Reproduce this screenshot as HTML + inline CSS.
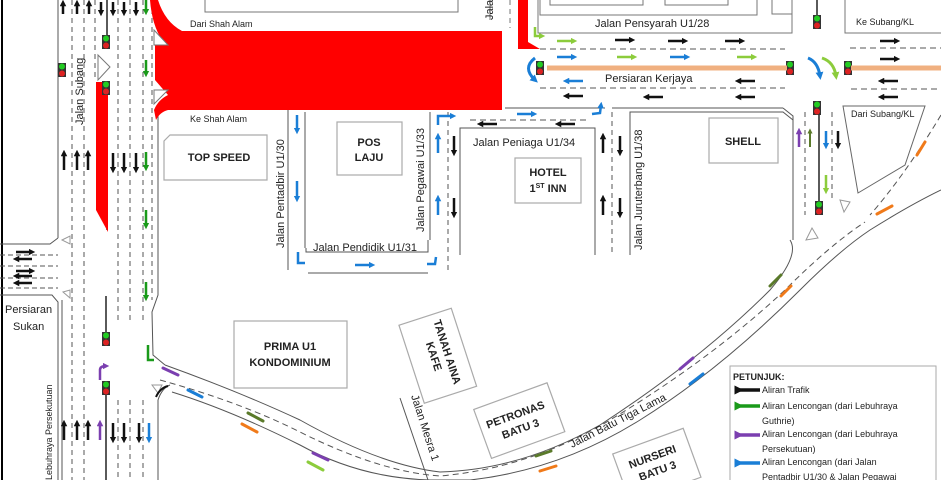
<!DOCTYPE html>
<html><head><meta charset="utf-8"><style>
html,body{margin:0;padding:0;background:#fff}
svg{display:block}
text{font-family:"Liberation Sans",sans-serif;fill:#222}
</style></head><body>
<svg width="941" height="480" viewBox="0 0 941 480" xmlns="http://www.w3.org/2000/svg">
<defs>
<marker id="mk" markerWidth="2.6" markerHeight="2.6" refX="1.3" refY="1.3" orient="auto" markerUnits="strokeWidth"><path d="M0,0L2.6,1.3L0,2.6z" fill="#111"/></marker>
<marker id="mg" markerWidth="2.6" markerHeight="2.6" refX="1.3" refY="1.3" orient="auto" markerUnits="strokeWidth"><path d="M0,0L2.6,1.3L0,2.6z" fill="#1a9a1a"/></marker>
<marker id="ml" markerWidth="2.6" markerHeight="2.6" refX="1.3" refY="1.3" orient="auto" markerUnits="strokeWidth"><path d="M0,0L2.6,1.3L0,2.6z" fill="#8ccc3c"/></marker>
<marker id="mb" markerWidth="2.6" markerHeight="2.6" refX="1.3" refY="1.3" orient="auto" markerUnits="strokeWidth"><path d="M0,0L2.6,1.3L0,2.6z" fill="#1a7ed6"/></marker>
<marker id="mp" markerWidth="2.6" markerHeight="2.6" refX="1.3" refY="1.3" orient="auto" markerUnits="strokeWidth"><path d="M0,0L2.6,1.3L0,2.6z" fill="#7b3fb0"/></marker>
<marker id="mo" markerWidth="2.6" markerHeight="2.6" refX="1.3" refY="1.3" orient="auto" markerUnits="strokeWidth"><path d="M0,0L2.6,1.3L0,2.6z" fill="#5a7a2a"/></marker>
</defs>

<line x1="2" y1="0" x2="2" y2="480" stroke="#000" stroke-width="2"/>

<g stroke="#555" stroke-width="1" fill="none">
<line x1="58" y1="0" x2="58" y2="238"/>
<path d="M58 238 L50 244 L0 244"/>
<path d="M0 295 L52 295 L58 302 L58 480"/>
<line x1="72" y1="0" x2="72" y2="480" stroke-dasharray="5,4"/>
<line x1="84" y1="0" x2="84" y2="480" stroke-dasharray="5,4"/>
<line x1="95" y1="0" x2="95" y2="80" stroke-dasharray="5,4"/>
<line x1="118" y1="0" x2="118" y2="320" stroke-dasharray="5,4"/>
<line x1="130" y1="0" x2="130" y2="320" stroke-dasharray="5,4"/>
<line x1="143" y1="0" x2="143" y2="320" stroke-dasharray="5,4"/>
<line x1="152" y1="0" x2="152" y2="300" stroke-dasharray="5,4"/>
<line x1="118" y1="400" x2="118" y2="480" stroke-dasharray="5,4"/>
<line x1="130" y1="400" x2="130" y2="480" stroke-dasharray="5,4"/>
<line x1="143" y1="400" x2="143" y2="480" stroke-dasharray="5,4"/>
<path d="M158 112 L158 295 L152 312 L153 355 L165 365"/>
<path d="M158 480 L158 400 Q162 388 170 385"/>
<line x1="0" y1="255" x2="58" y2="255" stroke-dasharray="5,3"/>
<line x1="0" y1="266" x2="58" y2="266" stroke-dasharray="5,3"/>
<line x1="0" y1="278" x2="58" y2="278" stroke-dasharray="5,3"/>
<line x1="0" y1="288" x2="58" y2="288" stroke-dasharray="5,3"/>
<path d="M62 300 L62 480"/>
</g>
<line x1="107" y1="0" x2="107" y2="38" stroke="#222" stroke-width="1.5"/>
<line x1="107" y1="92" x2="107" y2="230" stroke="#222" stroke-width="1.5"/>
<line x1="106" y1="296" x2="106" y2="335" stroke="#222" stroke-width="1.5"/>
<line x1="106" y1="392" x2="106" y2="480" stroke="#222" stroke-width="1.5"/>

<path d="M150 0 L158 0 Q165 22 182 31 L502 31 L502 110 L168 110 Q160 112 156 120 L154 110 Q158 100 168 95 L155 80 L155 45 L162 40 Q152 25 150 0 Z" fill="#f00"/>
<path d="M518 0 L528 0 L528 42 L540 49 L518 49 Z" fill="#f00"/>
<path d="M96 82 L108 82 L108 232 L96 210 Z" fill="#f00"/>

<path d="M98 55 L110 67 L98 80 Z" fill="#fff" stroke="#777"/>
<path d="M154 30 L168 45 L154 45 Z" fill="#fff" stroke="#777"/>
<path d="M154 90 L168 90 L154 104 Z" fill="#fff" stroke="#777"/>

<g>
<g transform="translate(102,35)"><rect width="8" height="14" fill="#333"/><circle cx="4" cy="3.5" r="3" fill="#2c2"/><circle cx="4" cy="10.5" r="3" fill="#d22"/></g>
<g transform="translate(58,63)"><rect width="8" height="14" fill="#333"/><circle cx="4" cy="3.5" r="3" fill="#2c2"/><circle cx="4" cy="10.5" r="3" fill="#d22"/></g>
<g transform="translate(102,81)"><rect width="8" height="14" fill="#333"/><circle cx="4" cy="3.5" r="3" fill="#2c2"/><circle cx="4" cy="10.5" r="3" fill="#d22"/></g>
<g transform="translate(102,332)"><rect width="8" height="14" fill="#333"/><circle cx="4" cy="3.5" r="3" fill="#2c2"/><circle cx="4" cy="10.5" r="3" fill="#d22"/></g>
<g transform="translate(102,381)"><rect width="8" height="14" fill="#333"/><circle cx="4" cy="3.5" r="3" fill="#2c2"/><circle cx="4" cy="10.5" r="3" fill="#d22"/></g>
<g transform="translate(536,61)"><rect width="8" height="14" fill="#333"/><circle cx="4" cy="3.5" r="3" fill="#2c2"/><circle cx="4" cy="10.5" r="3" fill="#d22"/></g>
<g transform="translate(786,61)"><rect width="8" height="14" fill="#333"/><circle cx="4" cy="3.5" r="3" fill="#2c2"/><circle cx="4" cy="10.5" r="3" fill="#d22"/></g>
<g transform="translate(844,61)"><rect width="8" height="14" fill="#333"/><circle cx="4" cy="3.5" r="3" fill="#2c2"/><circle cx="4" cy="10.5" r="3" fill="#d22"/></g>
<g transform="translate(813,15)"><rect width="8" height="14" fill="#333"/><circle cx="4" cy="3.5" r="3" fill="#2c2"/><circle cx="4" cy="10.5" r="3" fill="#d22"/></g>
<g transform="translate(813,101)"><rect width="8" height="14" fill="#333"/><circle cx="4" cy="3.5" r="3" fill="#2c2"/><circle cx="4" cy="10.5" r="3" fill="#d22"/></g>
<g transform="translate(815,201)"><rect width="8" height="14" fill="#333"/><circle cx="4" cy="3.5" r="3" fill="#2c2"/><circle cx="4" cy="10.5" r="3" fill="#d22"/></g>
</g>
<line x1="817" y1="0" x2="817" y2="15" stroke="#222" stroke-width="1.5"/>
<line x1="819" y1="115" x2="819" y2="201" stroke="#222" stroke-width="1.5"/>

<g fill="none" stroke="#777" stroke-width="1">
<path d="M205 0 L205 12 L458 12 L458 0"/>
<path d="M490 0 L490 20"/>
<path d="M540 0 L540 15 L757 15 L757 0"/>
<path d="M550 0 L550 5 L643 5 L643 0"/>
<path d="M665 0 L665 5 L728 5 L728 0"/>
<path d="M538 0 L538 33 L792 33 L792 0"/>
<path d="M772 0 L772 14 L792 14"/>
<path d="M845 0 L845 33 L941 33"/>
</g>
<line x1="510" y1="0" x2="510" y2="28" stroke="#777" stroke-dasharray="5,4"/>

<g stroke="#555" stroke-width="1" fill="none">
<line x1="540" y1="49" x2="785" y2="49" stroke-dasharray="6,4"/>
<line x1="850" y1="48" x2="941" y2="48" stroke-dasharray="6,4"/>
<line x1="540" y1="88" x2="785" y2="88" stroke-dasharray="6,4"/>
<line x1="851" y1="89" x2="941" y2="89" stroke-dasharray="6,4"/>
<line x1="505" y1="108" x2="605" y2="108"/>
<line x1="470" y1="120" x2="590" y2="120" stroke-dasharray="6,4"/>
<line x1="612" y1="108" x2="783" y2="108"/>
<path d="M783 108 L793 116 L793 240"/>
</g>
<line x1="547" y1="68" x2="787" y2="68" stroke="#f0b080" stroke-width="5"/>
<line x1="851" y1="68" x2="941" y2="68" stroke="#f0b080" stroke-width="5"/>

<g stroke="#555" stroke-width="1" fill="none">
<line x1="288" y1="110" x2="288" y2="270"/>
<line x1="305" y1="112" x2="305" y2="248"/>
<line x1="430" y1="112" x2="430" y2="240"/>
<line x1="448" y1="112" x2="448" y2="270" stroke-dasharray="5,4"/>
<line x1="308" y1="273" x2="428" y2="273"/>
<path d="M306 248 L306 252 L428 252 L428 240"/>
<path d="M460 255 L460 128 L595 128 L595 255"/>
<line x1="612" y1="112" x2="612" y2="255" stroke-dasharray="5,4"/>
<path d="M630 255 L630 112 L783 112 L793 120"/>
<line x1="805" y1="112" x2="805" y2="215" stroke-dasharray="5,4"/>
<line x1="832" y1="112" x2="832" y2="200" stroke-dasharray="5,4"/>
<path d="M843 106 L925 106 L905 165 L858 193 Z" stroke="#666"/>
<path d="M941 115 Q905 175 870 215" stroke-dasharray="6,4"/>
</g>

<g stroke="#555" stroke-width="1" fill="none">
<path d="M165 365 Q240 392 300 420 Q380 465 440 472 Q520 470 600 425 Q700 360 770 290 Q800 255 790 240"/>
<path d="M172 392 Q230 410 300 445 Q360 478 430 480 L470 480 Q560 470 640 420 Q720 370 800 290 Q840 250 870 230 Q910 205 941 190"/>
<path d="M160 380 Q240 402 300 432 Q380 472 440 476 Q530 468 610 420 Q710 360 785 290 Q830 245 865 222" stroke-dasharray="6,4"/>
</g>
<path d="M812 228 L818 238 L806 240 Z" fill="#fff" stroke="#999"/>
<path d="M840 200 L850 202 L844 212 Z" fill="#fff" stroke="#999"/>
<path d="M152 385 L162 385 L158 393 Z" fill="#fff" stroke="#999"/>
<path d="M156 397 Q160 388 168 386" stroke="#111" stroke-width="2" fill="none"/>
<path d="M62 240 L70 236 L70 244 Z" fill="#fff" stroke="#999"/>
<path d="M63 292 L70 290 L70 298 Z" fill="#fff" stroke="#999"/>

<g stroke="#111" stroke-width="2.5" marker-end="url(#mk)">
<line x1="63" y1="14" x2="63" y2="3"/><line x1="77" y1="14" x2="77" y2="3"/><line x1="89" y1="14" x2="89" y2="3"/>
<line x1="101" y1="2" x2="101" y2="13"/><line x1="113" y1="2" x2="113" y2="13"/><line x1="124" y1="2" x2="124" y2="13"/><line x1="136" y1="2" x2="136" y2="13"/>
<line x1="64" y1="170" x2="64" y2="153"/><line x1="77" y1="170" x2="77" y2="153"/><line x1="88" y1="170" x2="88" y2="153"/>
<line x1="113" y1="153" x2="113" y2="170"/><line x1="124" y1="153" x2="124" y2="170"/><line x1="136" y1="153" x2="136" y2="170"/>
<line x1="64" y1="440" x2="64" y2="423"/><line x1="77" y1="440" x2="77" y2="423"/><line x1="88" y1="440" x2="88" y2="423"/>
<line x1="113" y1="423" x2="113" y2="440"/><line x1="124" y1="423" x2="124" y2="440"/><line x1="139" y1="423" x2="139" y2="440"/>
<line x1="16" y1="252" x2="32" y2="252"/><line x1="32" y1="259" x2="16" y2="259"/><line x1="16" y1="271" x2="32" y2="271"/><line x1="32" y1="276" x2="16" y2="276"/><line x1="32" y1="283" x2="16" y2="283"/>
<line x1="615" y1="40" x2="632" y2="40"/><line x1="668" y1="41" x2="685" y2="41"/><line x1="725" y1="41" x2="742" y2="41"/><line x1="880" y1="41" x2="897" y2="41"/><line x1="880" y1="59" x2="897" y2="59"/>
<line x1="755" y1="81" x2="738" y2="81"/><line x1="898" y1="81" x2="881" y2="81"/>
<line x1="583" y1="96" x2="566" y2="96"/><line x1="663" y1="97" x2="646" y2="97"/><line x1="755" y1="97" x2="738" y2="97"/><line x1="898" y1="97" x2="881" y2="97"/>
<line x1="497" y1="124" x2="480" y2="124"/><line x1="575" y1="124" x2="558" y2="124"/>
<line x1="454" y1="136" x2="454" y2="153"/><line x1="454" y1="198" x2="454" y2="215"/>
<line x1="603" y1="153" x2="603" y2="136"/><line x1="603" y1="215" x2="603" y2="198"/>
<line x1="620" y1="136" x2="620" y2="153"/><line x1="620" y1="198" x2="620" y2="215"/>
<line x1="838" y1="131" x2="838" y2="146"/>
</g>
<g stroke="#1a9a1a" stroke-width="2.5" marker-end="url(#mg)">
<line x1="146" y1="0" x2="146" y2="12"/><line x1="146" y1="60" x2="146" y2="74"/><line x1="146" y1="152" x2="146" y2="168"/><line x1="146" y1="210" x2="146" y2="226"/><line x1="146" y1="282" x2="146" y2="298"/>
</g>
<path d="M148 345 L148 360 L154 360" stroke="#1a9a1a" stroke-width="2.5" fill="none"/>
<g stroke="#8ccc3c" stroke-width="2.5" marker-end="url(#ml)">
<line x1="557" y1="41" x2="574" y2="41"/><line x1="617" y1="57" x2="634" y2="57"/><line x1="737" y1="57" x2="754" y2="57"/>
<line x1="826" y1="175" x2="826" y2="191"/>
</g>
<path d="M535 27 L535 36 L542 36" stroke="#8ccc3c" stroke-width="2.5" fill="none" marker-end="url(#ml)"/>
<path d="M822 58 Q834 62 836 76" stroke="#8ccc3c" stroke-width="3" fill="none" marker-end="url(#ml)"/>
<g stroke="#1a7ed6" stroke-width="2.5" marker-end="url(#mb)">
<line x1="557" y1="57" x2="574" y2="57"/><line x1="670" y1="57" x2="687" y2="57"/>
<line x1="583" y1="81" x2="566" y2="81"/>
<line x1="517" y1="114" x2="534" y2="114"/>
<line x1="297" y1="115" x2="297" y2="131"/><line x1="297" y1="181" x2="297" y2="199"/>
<line x1="438" y1="153" x2="438" y2="136"/><line x1="438" y1="215" x2="438" y2="198"/>
<line x1="355" y1="265" x2="372" y2="265"/>
<line x1="826" y1="131" x2="826" y2="146"/>
<line x1="149" y1="423" x2="149" y2="440"/>
</g>
<path d="M535 58 Q522 68 535 80" stroke="#1a7ed6" stroke-width="3" fill="none" marker-end="url(#mb)"/>
<path d="M808 58 Q818 62 820 76" stroke="#1a7ed6" stroke-width="3" fill="none" marker-end="url(#mb)"/>
<path d="M592 114 L600 113 L601 105" stroke="#1a7ed6" stroke-width="2.5" fill="none" marker-end="url(#mb)"/>
<path d="M438 125 L438 116 L453 116" stroke="#1a7ed6" stroke-width="2.5" fill="none" marker-end="url(#mb)"/>
<path d="M298 252 L298 263 L305 263" stroke="#1a7ed6" stroke-width="2.5" fill="none"/>
<path d="M427 264 L435 264 L436 257" stroke="#1a7ed6" stroke-width="2.5" fill="none"/>
<g stroke="#7b3fb0" stroke-width="2.5" marker-end="url(#mp)">
<line x1="100" y1="440" x2="100" y2="423"/><line x1="799" y1="147" x2="799" y2="131"/>
</g>
<path d="M100 380 L100 370 Q100 366 106 366" stroke="#7b3fb0" stroke-width="2.5" fill="none" marker-end="url(#mp)"/>
<line x1="810" y1="147" x2="810" y2="131" stroke="#5a7a2a" stroke-width="2" marker-end="url(#mo)"/>

<g stroke-width="3" stroke-linecap="round">
<line x1="163" y1="368" x2="178" y2="375" stroke="#7b3fb0"/>
<line x1="188" y1="390" x2="202" y2="397" stroke="#1a7ed6"/>
<line x1="248" y1="413" x2="263" y2="421" stroke="#5a7a2a"/>
<line x1="242" y1="424" x2="257" y2="432" stroke="#f07a1a"/>
<line x1="313" y1="453" x2="328" y2="460" stroke="#7b3fb0"/>
<line x1="308" y1="462" x2="323" y2="470" stroke="#8ccc3c"/>
<line x1="536" y1="456" x2="551" y2="451" stroke="#5a7a2a"/>
<line x1="540" y1="471" x2="556" y2="466" stroke="#f07a1a"/>
<line x1="680" y1="369" x2="693" y2="358" stroke="#7b3fb0"/>
<line x1="690" y1="384" x2="703" y2="374" stroke="#1a7ed6"/>
<line x1="770" y1="286" x2="781" y2="275" stroke="#5a7a2a"/>
<line x1="781" y1="296" x2="791" y2="286" stroke="#f07a1a"/>
<line x1="925" y1="142" x2="917" y2="155" stroke="#f07a1a"/>
<line x1="892" y1="206" x2="877" y2="214" stroke="#f07a1a"/>
</g>

<g fill="none" stroke="#aaa" stroke-width="1.2">
<path d="M170 135 L267 135 L267 180 L164 180 L164 141 Z"/>
<rect x="337" y="122" width="65" height="53"/>
<rect x="515" y="158" width="66" height="45"/>
<rect x="709" y="118" width="69" height="45"/>
<rect x="234" y="321" width="113" height="67"/>
<g transform="rotate(-18 437 355)"><rect x="410" y="315" width="55" height="82"/></g>
<g transform="rotate(-20 518 420)"><rect x="480" y="395" width="78" height="52"/></g>
<g transform="rotate(-20 655 462)"><rect x="618" y="440" width="75" height="52"/></g>
</g>
<line x1="400" y1="398" x2="428" y2="480" stroke="#555"/>

<g font-size="9">
<text x="190" y="27">Dari Shah Alam</text>
<text x="190" y="122">Ke Shah Alam</text>
<text x="856" y="25">Ke Subang/KL</text>
<text x="851" y="117">Dari Subang/KL</text>
</g>
<g font-size="11">
<text x="595" y="27">Jalan Pensyarah U1/28</text>
<text x="605" y="82">Persiaran Kerjaya</text>
<text x="473" y="146">Jalan Peniaga U1/34</text>
<text x="313" y="251">Jalan Pendidik U1/31</text>
<text transform="translate(284,248) rotate(-90)">Jalan Pentadbir U1/30</text>
<text transform="translate(424,232) rotate(-90)">Jalan Pegawai U1/33</text>
<text transform="translate(642,250) rotate(-90)">Jalan Juruterbang U1/38</text>
<text transform="translate(83,125) rotate(-90)">Jalan Subang</text>
<text transform="translate(493,20) rotate(-90)">Jalan</text>
<text x="5" y="313">Persiaran</text>
<text x="13" y="330">Sukan</text>
<text transform="translate(411,396) rotate(72)">Jalan Mesra 1</text>
<text transform="translate(572,448) rotate(-27)">Jalan Batu Tiga Lama</text>
</g>
<text transform="translate(52,480) rotate(-90)" font-size="9">Lebuhraya Persekutuan</text>
<g font-size="11" font-weight="bold" text-anchor="middle">
<text x="219" y="161">TOP SPEED</text>
<text x="369" y="146">POS</text><text x="369" y="161">LAJU</text>
<text x="548" y="176">HOTEL</text><text x="548" y="192">1<tspan font-size="7" dy="-4">ST</tspan><tspan dy="4"> INN</tspan></text>
<text x="743" y="145">SHELL</text>
<text x="290" y="350">PRIMA U1</text><text x="290" y="366">KONDOMINIUM</text>
<g transform="translate(438,355) rotate(72)"><text x="0" y="-6">TANAH AINA</text><text x="0" y="8">KAFE</text></g>
<g transform="translate(518,422) rotate(-20)"><text x="0" y="-4">PETRONAS</text><text x="0" y="11">BATU 3</text></g>
<g transform="translate(655,464) rotate(-20)"><text x="0" y="-4">NURSERI</text><text x="0" y="11">BATU 3</text></g>
</g>

<rect x="730" y="366" width="206" height="120" fill="#fff" stroke="#aaa"/>
<g font-size="9">
<text x="733" y="380" font-weight="bold">PETUNJUK:</text>
<line x1="739" y1="390" x2="760" y2="390" stroke="#111" stroke-width="3.5" marker-start="url(#mk)"/>
<text x="762" y="393">Aliran Trafik</text>
<line x1="739" y1="406" x2="760" y2="406" stroke="#1a9a1a" stroke-width="3.5" marker-start="url(#mg)"/>
<text x="762" y="409">Aliran Lencongan (dari Lebuhraya</text>
<text x="762" y="424">Guthrie)</text>
<line x1="739" y1="435" x2="760" y2="435" stroke="#7b3fb0" stroke-width="3.5" marker-start="url(#mp)"/>
<text x="762" y="437">Aliran Lencongan (dari Lebuhraya</text>
<text x="762" y="452">Persekutuan)</text>
<line x1="739" y1="463" x2="760" y2="463" stroke="#1a7ed6" stroke-width="3.5" marker-start="url(#mb)"/>
<text x="762" y="465">Aliran Lencongan (dari Jalan</text>
<text x="762" y="480">Pentadbir U1/30 &amp; Jalan  Pegawai</text>
</g>
</svg>
</body></html>
